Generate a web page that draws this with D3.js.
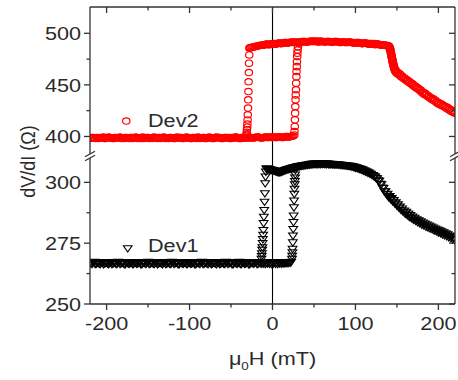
<!DOCTYPE html>
<html><head><meta charset="utf-8">
<script src="https://cdn.jsdelivr.net/npm/d3@7"></script>
<style>body{margin:0;background:#fff}svg{display:block}</style>
</head><body>
<svg id="c" width="458" height="380"></svg>
<script>
// ---- data ----
const xTicks = [-200, -100, 0, 100, 200];
const xMinor = [-150, -50, 50, 150];
const yTicksTop = [400, 450, 500];
const yMinorTop = [425, 475];
const yTicksBot = [250, 275, 300];
const yMinorBot = [262.5, 287.5];
const legendNames = ["Dev2", "Dev1"];

// Dev2: sweep from +220 to -220 mT  [field mT, dV/dI ohm]
const dev2Down = [[220,422.5],[217.5,423.5],[215,424.5],[212.5,426],[210,427],[207.5,428.5],[205,429.5],[202.5,430.5],[200,431.5],[197.5,433],[195,434.5],[192.5,435.5],[190,437],[187.5,438.5],[185,440],[182.5,441],[180,442.5],[177.5,444.5],[175,446],[172.5,447.5],[170,449],[167.5,450.5],[165,452],[162.5,453.5],[160,455],[157.5,456.5],[155,458],[152.5,459.5],[150,461],[148.5,462.5],[147.5,464],[147,465.5],[146.5,467],[146,468.5],[145.5,470.5],[145,472],[144.5,474],[144,476],[143.5,478],[143,480],[142.5,482],[142,484],[141.5,485.5],[141,486.5],[140,488],[137.5,488.5],[135,488.5],[132.5,489],[130,489],[127.5,489.5],[125,489.5],[122.5,490],[120,489.5],[117.5,490],[115,490],[112.5,490.5],[110,490.5],[107.5,490],[105,490.5],[102.5,491],[100,491],[97.5,490.5],[95,491],[92.5,491.5],[90,491.5],[87.5,491],[85,491.5],[82.5,491],[80,491.5],[77.5,492],[75,492],[72.5,491.5],[70,491.5],[67.5,492],[65,492],[62.5,491.5],[60,492],[57.5,492.5],[55,491.5],[52.5,492],[50,492.5],[47.5,492],[45,492],[42.5,491.5],[40,491.5],[37.5,492],[35,492],[32.5,491.5],[30,491],
[28.75,491.5],[27.5,491.5],[26.25,491],[25,491],[23.75,491.5],[22.5,491.5],[21.25,491],[20,491],[18.75,490.5],[17.5,490.5],[16.25,491],[15,491],[13.75,490.5],[12.5,490.5],[11.25,490],[10,490],[8.75,490.5],[7.5,490.5],[6.25,490],[5,490],[3.75,489.5],[2.5,489.5],[1.25,490],[0,490],[-1.25,489.5],[-2.5,489.5],[-3.75,489],[-5,489],[-6.25,489.5],[-7.5,489.5],[-8.75,489],[-10,489],[-11.25,488.5],[-12.5,488.5],[-13.75,488.5],[-15,488.5],[-16.25,488],[-17.5,488],[-18.75,487.5],[-20,487.5],[-21.25,487],[-22.5,487],[-23.75,486.5],[-25,486.5],[-26.25,486],[-27.5,486],
[-27.8,485.5],[-28,479],[-28.3,471],[-28.5,462],[-28.8,453],[-29,443.5],[-29.3,435.5],[-29.5,427.5],[-29.8,421],[-30,416],[-30.3,412],[-30.5,409],[-30.8,406.5],[-31,404],[-31.3,402],[-31.5,400.5],
[-32.5,399],[-35,398.5],[-37.5,399],[-40,398],[-42.5,398.5],[-45,399.5],[-47.5,398.5],[-50,398],[-52.5,399],[-55,398.5],[-57.5,399],[-60,398],[-62.5,398.5],[-65,399],[-67.5,399.5],[-70,398.5],[-72.5,398],[-75,398.5],[-77.5,399],[-80,398],[-82.5,399],[-85,398.5],[-87.5,398],[-90,399.5],[-92.5,398.5],[-95,399],[-97.5,398],[-100,398.5],[-102.5,399],[-105,398.5],[-107.5,398],[-110,399],[-112.5,398.5],[-115,399.5],[-117.5,398],[-120,398.5],[-122.5,399],[-125,398],[-127.5,398.5],[-130,399],[-132.5,398.5],[-135,398],[-137.5,399],[-140,398.5],[-142.5,399.5],[-145,398],[-147.5,398.5],[-150,399],[-152.5,398.5],[-155,398],[-157.5,399],[-160,398.5],[-162.5,398],[-165,399.5],[-167.5,398.5],[-170,399],[-172.5,398],[-175,398.5],[-177.5,399],[-180,398.5],[-182.5,398],[-185,399],[-187.5,398.5],[-190,399],[-192.5,398],[-195,398.5],[-197.5,399.5],[-200,398.5],[-202.5,398],[-205,399],[-207.5,398.5],[-210,398],[-212.5,399],[-215,398.5],[-217.5,399],[-220,398]];

// Dev2: sweep from -220 to +220 mT
const dev2Up = [[-218.75,398.5],[-216.25,399],[-213.75,398],[-211.25,398.5],[-208.75,399],[-206.25,398.5],[-203.75,399.5],[-201.25,398],[-198.75,398.5],[-196.25,399],[-193.75,398.5],[-191.25,398],[-188.75,399],[-186.25,398.5],[-183.75,399.5],[-181.25,398.5],[-178.75,398],[-176.25,399],[-173.75,398.5],[-171.25,399],[-168.75,398],[-166.25,398.5],[-163.75,399],[-161.25,398.5],[-158.75,398],[-156.25,399.5],[-153.75,398.5],[-151.25,399],[-148.75,398],[-146.25,398.5],[-143.75,399],[-141.25,398.5],[-138.75,398],[-136.25,399],[-133.75,398.5],[-131.25,399.5],[-128.75,398],[-126.25,398.5],[-123.75,399],[-121.25,398.5],[-118.75,398],[-116.25,399],[-113.75,398.5],[-111.25,399],[-108.75,398],[-106.25,398.5],[-103.75,399.5],[-101.25,398.5],[-98.75,398],[-96.25,399],[-93.75,398.5],[-91.25,398],[-88.75,399],[-86.25,398.5],[-83.75,399],[-81.25,398],[-78.75,398.5],[-76.25,399.5],[-73.75,398.5],[-71.25,398],[-68.75,399],[-66.25,398.5],[-63.75,399],[-61.25,398],[-58.75,398.5],[-56.25,399],[-53.75,398.5],[-51.25,398],[-48.75,399],[-46.25,398.5],[-43.75,399.5],[-41.25,398.5],[-38.75,398],[-36.25,399],[-33.75,398.5],
[-32.5,399],[-31.25,398.5],[-30,399],[-28.75,398.5],[-27.5,398.5],[-26.25,399],[-25,399],[-23.75,398.5],[-22.5,398.5],[-21.25,399],[-20,399],[-18.75,399.5],[-17.5,399.5],[-16.25,399],[-15,399],[-13.75,398.5],[-12.5,398.5],[-11.25,399],[-10,399],[-8.75,399.5],[-7.5,399.5],[-6.25,399],[-5,399],[-3.75,399.5],[-2.5,399.5],[-1.25,399],[0,399],[1.25,399.5],[2.5,399.5],[3.75,399],[5,399],[6.25,399.5],[7.5,399.5],[8.75,399.5],[10,399.5],[11.25,399],[12.5,399],[13.75,399.5],[15,399.5],[16.25,400],[17.5,400],[18.75,399.5],[20,399.5],[21.25,400],[22.5,400],[23.75,400.5],[25,400.5],
[26.3,401.5],[26.5,404.8],[26.8,409.7],[27,416.1],[27.3,422.6],[27.5,429],[27.8,435.5],[28,440.3],[28.3,445.2],[28.5,451.6],[28.8,458],[29,462.9],[29.3,467.7],[29.5,472.5],[29.8,477.4],[30,480.7],[30.3,483.9],[30.7,487],
[31.25,490],[33.75,491],[36.25,491.5],[38.75,492],[41.25,491.5],[43.75,492],[46.25,492.5],[48.75,492],[51.25,492],[53.75,492.5],[56.25,491.5],[58.75,492],[61.25,492],[63.75,491.5],[66.25,492],[68.75,492],[71.25,491.5],[73.75,491.5],[76.25,492],[78.75,491.5],[81.25,491],[83.75,491.5],[86.25,491.5],[88.75,491],[91.25,491],[93.75,491.5],[96.25,491],[98.75,490.5],[101.25,490.5],[103.75,491],[106.25,490.5],[108.75,490],[111.25,490.5],[113.75,490],[116.25,489.5],[118.75,490],[121.25,489.5],[123.75,489],[126.25,489.5],[128.75,489],[131.25,488.5],[133.75,489],[136.25,488.5],[138.75,488],[140.25,487.5],[140.75,486.5],[141.25,485.5],[141.75,484.5],[142.25,483],[142.75,481],[143.25,479],[143.75,477],[144.25,475],[144.75,473],[145.25,471],[145.75,469.5],[146.25,468],[146.75,466.5],[147.75,465],[148.75,464],[151.25,462],[153.75,460.5],[156.25,458.5],[158.75,457],[161.25,455.5],[163.75,454],[166.25,452.5],[168.75,451],[171.25,449.5],[173.75,448],[176.25,446.5],[178.75,445],[181.25,443],[183.75,442],[186.25,440.5],[188.75,439],[191.25,437.5],[193.75,436.5],[196.25,435],[198.75,433.5],[201.25,432.5],[203.75,431.5],[206.25,430],[208.75,429],[211.25,428],[213.75,426.5],[216.25,425.5],[218.75,424.5]];

// Dev1: sweep from +220 to -220 mT
const dev1Down = [[220,276.2],[217.5,276.6],[215,277],[212.5,277.5],[210,277.9],[207.5,278.3],[205,278.6],[202.5,279.1],[200,279.4],[197.5,279.9],[195,280.2],[192.5,280.7],[190,281],[187.5,281.5],[185,281.8],[182.5,282.3],[180,282.6],[177.5,283.2],[175,283.6],[172.5,284.2],[170,284.6],[167.5,285.3],[165,285.8],[162.5,286.5],[160,287.1],[157.5,287.9],[155,288.6],[152.5,289.6],[150,290.4],[147.5,291.3],[145,292.1],[142.5,293.1],[140,293.9],[137.5,295],[135,296.3],[132.5,297.8],[130,299.4],[127.5,300.8],[125,301.7],[122.5,302.4],[120,303],[117.5,303.5],[115,304],[112.5,304.4],[110,304.8],[107.5,305.2],[105,305.5],[102.5,305.8],[100,306],[97.5,306.3],[95,306.5],[92.5,306.7],[90,306.8],[87.5,306.9],[85,307],[82.5,307.1],[80,307.2],[77.5,307.3],[75,307.3],[72.5,307.4],[70,307.5],[67.5,307.5],[65,307.5],[62.5,307.6],[60,307.6],[57.5,307.5],[55,307.5],[52.5,307.5],[50,307.4],[47.5,307.3],[45,307.2],[42.5,307.1],[40,307],[37.5,306.9],[35,306.8],[32.5,306.6],[30,306.5],
[28.75,306.3],[27.5,306.2],[26.25,306.1],[25,306],[23.75,305.9],[22.5,305.8],[21.25,305.6],[20,305.5],[18.75,305.4],[17.5,305.3],[16.25,305.1],[15,305],[13.75,304.8],[12.5,304.6],[11.25,304.4],[10,304.3],[8.75,304.2],[7.5,304.2],[6.25,304.3],[5,304.5],[3.75,304.6],[2.5,304.8],[1.25,304.9],[0,305],[-1.25,305.1],[-2.5,305.2],[-3.75,305.4],[-5,305.5],[-6.25,305.6],[-7.5,305.6],
[-8,304.4],[-8.4,302.3],[-8.8,299.6],[-9.2,295.5],[-9.6,292],[-10,288.6],[-10.4,285.8],[-10.7,283.2],[-11,280.4],[-11.3,278.4],[-11.6,276.6],[-11.9,275],[-12.2,273.3],[-12.5,272.2],[-12.8,270.8],[-13,269.7],[-13.3,268.5],
[-15,267],[-17.5,266.5],[-20,267.2],[-22.5,266.6],[-25,267],[-27.5,266.4],[-30,267.1],[-32.5,266.7],[-35,267],[-37.5,266.5],[-40,267.3],[-42.5,266.6],[-45,267],[-47.5,266.4],[-50,267],[-52.5,266.8],[-55,267.2],[-57.5,266.5],[-60,267],[-62.5,266.6],[-65,267.1],[-67.5,266.4],[-70,267],[-72.5,266.7],[-75,267.2],[-77.5,266.5],[-80,267],[-82.5,266.6],[-85,267.3],[-87.5,266.5],[-90,267],[-92.5,266.4],[-95,267.1],[-97.5,266.7],[-100,267],[-102.5,266.5],[-105,267.2],[-107.5,266.6],[-110,267],[-112.5,266.4],[-115,267],[-117.5,266.8],[-120,267.2],[-122.5,266.5],[-125,267],[-127.5,266.6],[-130,267.1],[-132.5,266.4],[-135,267],[-137.5,266.7],[-140,267.2],[-142.5,266.5],[-145,267],[-147.5,266.6],[-150,267.3],[-152.5,266.5],[-155,267],[-157.5,266.4],[-160,267.1],[-162.5,266.7],[-165,267],[-167.5,266.5],[-170,267.2],[-172.5,266.6],[-175,267],[-177.5,266.4],[-180,267],[-182.5,266.8],[-185,267.2],[-187.5,266.5],[-190,267],[-192.5,266.6],[-195,267.1],[-197.5,266.4],[-200,267],[-202.5,266.7],[-205,267.2],[-207.5,266.5],[-210,267],[-212.5,266.6],[-215,267.3],[-217.5,266.5],[-220,267]];

// Dev1: sweep from -220 to +220 mT
const dev1Up = [[-218.75,266.7],[-216.25,267.1],[-213.75,266.5],[-211.25,267],[-208.75,266.6],[-206.25,267.2],[-203.75,266.4],[-201.25,267],[-198.75,266.7],[-196.25,267.1],[-193.75,266.5],[-191.25,267],[-188.75,266.6],[-186.25,267.3],[-183.75,266.5],[-181.25,267],[-178.75,266.4],[-176.25,267.1],[-173.75,266.7],[-171.25,267],[-168.75,266.5],[-166.25,267.2],[-163.75,266.6],[-161.25,267],[-158.75,266.4],[-156.25,267],[-153.75,266.8],[-151.25,267.2],[-148.75,266.5],[-146.25,267],[-143.75,266.6],[-141.25,267.1],[-138.75,266.4],[-136.25,267],[-133.75,266.7],[-131.25,267.2],[-128.75,266.5],[-126.25,267],[-123.75,266.6],[-121.25,267.3],[-118.75,266.5],[-116.25,267],[-113.75,266.4],[-111.25,267.1],[-108.75,266.7],[-106.25,267],[-103.75,266.5],[-101.25,267.2],[-98.75,266.6],[-96.25,267],[-93.75,266.4],[-91.25,267],[-88.75,266.8],[-86.25,267.2],[-83.75,266.5],[-81.25,267],[-78.75,266.6],[-76.25,267.1],[-73.75,266.4],[-71.25,267],[-68.75,266.7],[-66.25,267.2],[-63.75,266.5],[-61.25,267],[-58.75,266.6],[-56.25,267.3],[-53.75,266.5],[-51.25,267],[-48.75,266.4],[-46.25,267.1],[-43.75,266.7],[-41.25,267],[-38.75,266.5],[-36.25,267.2],[-33.75,266.6],[-31.25,267],[-28.75,266.4],[-26.25,267],[-23.75,266.8],[-21.25,267.2],[-18.75,266.5],[-16.25,267],[-13.75,266.6],
[-12.5,267],[-11.25,266.6],[-10,267.1],[-8.75,266.5],[-7.5,267],[-6.25,266.7],[-5,267.2],[-3.75,266.6],[-2.5,267],[-1.25,266.5],[0,267],[1.25,266.7],[2.5,267.1],[3.75,266.6],[5,267],[6.25,266.5],[7.5,267.1],[8.75,266.7],[10,267],[11.25,266.6],[12.5,267.2],[13.75,266.7],[15,267],[16.25,266.8],[17.5,267.1],[18.75,266.8],[20,267.2],[21.25,267],[22.5,267.3],
[23.5,268.5],[23.7,269.8],[24,271.2],[24.2,272.6],[24.5,275.3],[24.7,278.1],[25,280.8],[25.3,283.6],[25.5,286.3],[25.8,289.7],[26,292.5],[26.3,295.2],[26.5,297.3],[26.8,299.1],[27,300.5],[27.2,301.9],[27.4,303.2],[27.6,305.1],
[31.25,306.6],[33.75,306.8],[36.25,307],[38.75,307.1],[41.25,307.3],[43.75,307.4],[46.25,307.6],[48.75,307.7],[51.25,307.8],[53.75,307.7],[56.25,307.9],[58.75,307.8],[61.25,307.8],[63.75,307.7],[66.25,307.8],[68.75,307.6],[71.25,307.6],[73.75,307.5],[76.25,307.5],[78.75,307.4],[81.25,307.3],[83.75,307.2],[86.25,307.1],[88.75,307],[91.25,306.9],[93.75,306.8],[96.25,306.6],[98.75,306.3],[101.25,306.1],[103.75,305.8],[106.25,305.5],[108.75,305.2],[111.25,304.8],[113.75,304.4],[116.25,304],[118.75,303.5],[121.25,303],[123.75,302.3],[126.25,301.6],[128.75,300.6],[131.25,299.1],[133.75,297.6],[136.25,296.3],[138.75,295.2],[141.25,294.3],[143.75,293.5],[146.25,292.7],[148.75,291.8],[151.25,290.9],[153.75,290],[156.25,289.2],[158.75,288.4],[161.25,287.8],[163.75,287.1],[166.25,286.5],[168.75,285.9],[171.25,285.4],[173.75,284.8],[176.25,284.4],[178.75,283.9],[181.25,283.4],[183.75,283],[186.25,282.6],[188.75,282.2],[191.25,281.8],[193.75,281.4],[196.25,281],[198.75,280.6],[201.25,280.2],[203.75,279.8],[206.25,279.4],[208.75,279],[211.25,278.6],[213.75,278.1],[216.25,277.7],[218.75,277.3]];

// ---- layout ----
const svg = d3.select("#c");
const L = 90, R = 455, T = 7, B = 304, upB = 154, loT = 158;
const x = d3.scaleLinear().domain([-220, 220]).range([L, R]);
const yTop = d3.scaleLinear().domain([383, 525.5]).range([upB, T]);
const yBot = d3.scaleLinear().domain([250, 310]).range([B, loT]);
const axisCol = "#333", textCol = "#2a2a2a";
const FONT = "'Liberation Sans', Arial, sans-serif";
const SX = 1.17;   // the whole figure is slightly stretched horizontally
const FS = 18.5;

const defs = svg.append("defs");
defs.append("clipPath").attr("id", "clipTop").append("rect").attr("x", L).attr("y", T).attr("width", R - L).attr("height", upB - T);
defs.append("clipPath").attr("id", "clipBot").append("rect").attr("x", L).attr("y", loT).attr("width", R - L).attr("height", B - loT);

// zero-field line
svg.append("line").attr("x1", x(0)).attr("x2", x(0)).attr("y1", T).attr("y2", B).attr("stroke", "#000").attr("stroke-width", 1.1);

// ---- markers (open symbols) ----
function drawCircles(g, data, ys) {
  g.selectAll(null).data(data).enter().append("ellipse")
    .attr("cx", d => x(d[0])).attr("cy", d => ys(d[1])).attr("rx", 3.7).attr("ry", 3.2)
    .attr("fill", "none").attr("stroke", "#ff0000").attr("stroke-width", 1.15);
}
const tri = d3.symbol().type(d3.symbolTriangle).size(24);
function drawTris(g, data, ys) {
  g.selectAll(null).data(data).enter().append("path")
    .attr("d", tri)
    .attr("transform", d => `translate(${x(d[0])},${ys(d[1]) - 0.5}) scale(${SX},1) rotate(180)`)
    .attr("fill", "none").attr("stroke", "#000").attr("stroke-width", 1);
}
const gTop = svg.append("g").attr("clip-path", "url(#clipTop)");
drawCircles(gTop.append("g"), dev2Down, yTop);
drawCircles(gTop.append("g"), dev2Up, yTop);
const gBot = svg.append("g").attr("clip-path", "url(#clipBot)");
drawTris(gBot.append("g"), dev1Down, yBot);
drawTris(gBot.append("g"), dev1Up, yBot);

// ---- frame & ticks ----
const ax = svg.append("g").attr("stroke", axisCol).attr("stroke-width", 1.3).attr("fill", "none");
function seg(x1, y1, x2, y2) { ax.append("line").attr("x1", x1).attr("y1", y1).attr("x2", x2).attr("y2", y2); }
seg(L, T, R, T); seg(L, B, R, B);
seg(L, T, L, upB); seg(L, loT, L, B);
seg(R, T, R, upB); seg(R, loT, R, B);
[[L, upB], [L, loT], [R, upB], [R, loT]].forEach(([bx, by]) => seg(bx - 5, by + 2.8, bx + 5, by - 2.8));
xTicks.forEach(v => { seg(x(v), B, x(v), B + 6); seg(x(v), T, x(v), T + 6); });
xMinor.forEach(v => { seg(x(v), B, x(v), B + 3.5); seg(x(v), T, x(v), T + 3.5); });
[[yTicksTop, yTop], [yTicksBot, yBot]].forEach(([ts, s]) => ts.forEach(v => { seg(L - 6, s(v), L, s(v)); seg(R - 6, s(v), R, s(v)); }));
[[yMinorTop, yTop], [yMinorBot, yBot]].forEach(([ts, s]) => ts.forEach(v => { seg(L - 3.5, s(v), L, s(v)); seg(R - 3.5, s(v), R, s(v)); }));

// ---- text ----
function label(txt, px, py, anchor, size) {
  return svg.append("text").attr("transform", `translate(${px},${py}) scale(${SX},1)`)
    .attr("text-anchor", anchor).attr("font-family", FONT).attr("font-size", size)
    .attr("fill", textCol).text(txt);
}
yTicksTop.forEach(v => label(v, 81, yTop(v) + 6.8, "end", FS));
yTicksBot.forEach(v => label(v, 81, yBot(v) + 6.8, "end", FS));
xTicks.forEach(v => label(v, x(v), 330, "middle", FS));

// legend
svg.append("ellipse").attr("cx", 126.3).attr("cy", 121).attr("rx", 3.7).attr("ry", 3.2).attr("fill", "none").attr("stroke", "#ff0000").attr("stroke-width", 1.15);
label(legendNames[0], 148, 127, "start", FS);
svg.append("path").attr("d", tri).attr("transform", `translate(127.7,247.8) scale(${SX},1) rotate(180)`).attr("fill", "none").attr("stroke", "#000").attr("stroke-width", 1);
label(legendNames[1], 148, 252, "start", FS);

// axis titles
const xt = label("", 272.5, 365, "middle", FS);
xt.append("tspan").text("\u03bc");
xt.append("tspan").attr("font-size", 11.5).attr("dy", 4.5).text("0");
xt.append("tspan").attr("dy", -4.5).text("H (mT)");
svg.append("text").attr("transform", `translate(35,161.5) scale(${SX},1) rotate(-90)`).attr("text-anchor", "middle")
  .attr("font-family", FONT).attr("font-size", 18).attr("fill", textCol).text("dV/dI (\u03a9)");
</script>
</body></html>
